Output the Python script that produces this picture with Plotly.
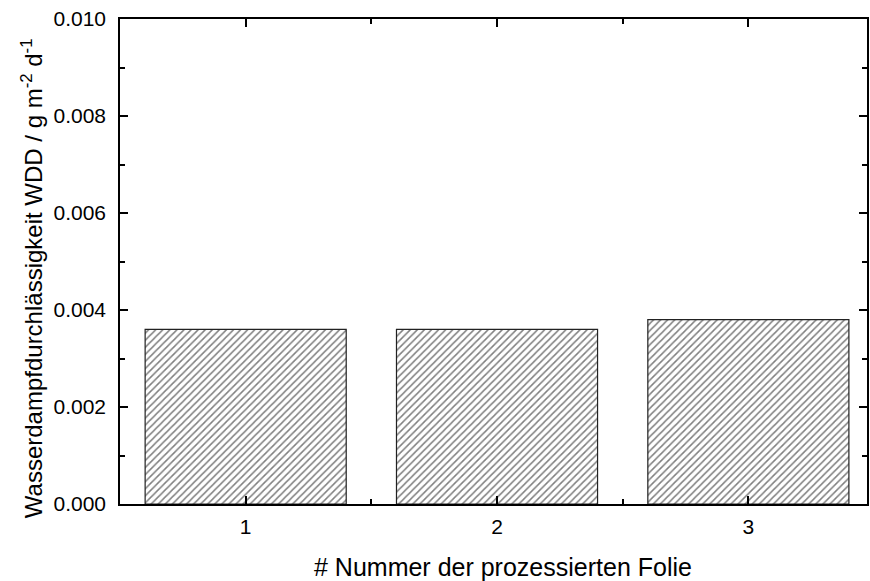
import plotly.graph_objects as go

folien = [1, 2, 3]
wdd = [0.0036, 0.0036, 0.0038]
x_ticks = [1, 2, 3]
y_ticks = [0.000, 0.002, 0.004, 0.006, 0.008, 0.010]
y_tick_labels = ["0.000", "0.002", "0.004", "0.006", "0.008", "0.010"]
x_title = "# Nummer der prozessierten Folie"
y_title = "Wasserdampfdurchlässigkeit WDD / g m<sup>-2</sup> d<sup>-1</sup>"

fig = go.Figure()
fig.add_trace(go.Bar(
    x=folien, y=wdd, width=0.8,
    marker=dict(color="white", line=dict(color="#222222", width=1.2),
                pattern=dict(shape="/", fgcolor="black", bgcolor="white", size=5, solidity=0.3)),
))

font = dict(family="Liberation Sans, Arial, sans-serif", size=20, color="black")
fig.update_layout(
    width=870, height=581,
    margin=dict(l=120, r=1, t=19, b=77),
    plot_bgcolor="white", paper_bgcolor="white",
    showlegend=False,
    font=font,
    xaxis=dict(
        range=[0.5, 3.472], tickvals=x_ticks, ticktext=[str(v) for v in x_ticks],
        ticks="inside", ticklen=8, tickwidth=1.5, tickcolor="black",
        showline=True, linecolor="black", linewidth=1.5, mirror="ticks",
        showgrid=False, zeroline=False,
        minor=dict(tickvals=[1.5, 2.5], ticks="inside", ticklen=5, tickwidth=1.5, tickcolor="black"),
        tickfont=dict(size=21), ticklabelstandoff=3,
    ),
    yaxis=dict(
        range=[0, 0.010], tickvals=y_ticks, ticktext=y_tick_labels,
        ticks="inside", ticklen=8, tickwidth=1.5, tickcolor="black",
        showline=True, linecolor="black", linewidth=1.5, mirror="ticks",
        showgrid=False, zeroline=False,
        minor=dict(tickvals=[0.001, 0.003, 0.005, 0.007, 0.009], ticks="inside", ticklen=5, tickwidth=1.5, tickcolor="black"),
        tickfont=dict(size=21), ticklabelstandoff=8,
    ),
    annotations=[
        dict(text=x_title, xref="paper", yref="paper", x=0.5127, y=-0.130,
             xanchor="center", yanchor="middle", showarrow=False, font=dict(size=25)),
        dict(text=y_title, xref="paper", yref="paper", x=-0.1175, y=0.466, textangle=-90,
             xanchor="center", yanchor="middle", showarrow=False, font=dict(size=24)),
    ],
)
fig.write_html("out.html")
